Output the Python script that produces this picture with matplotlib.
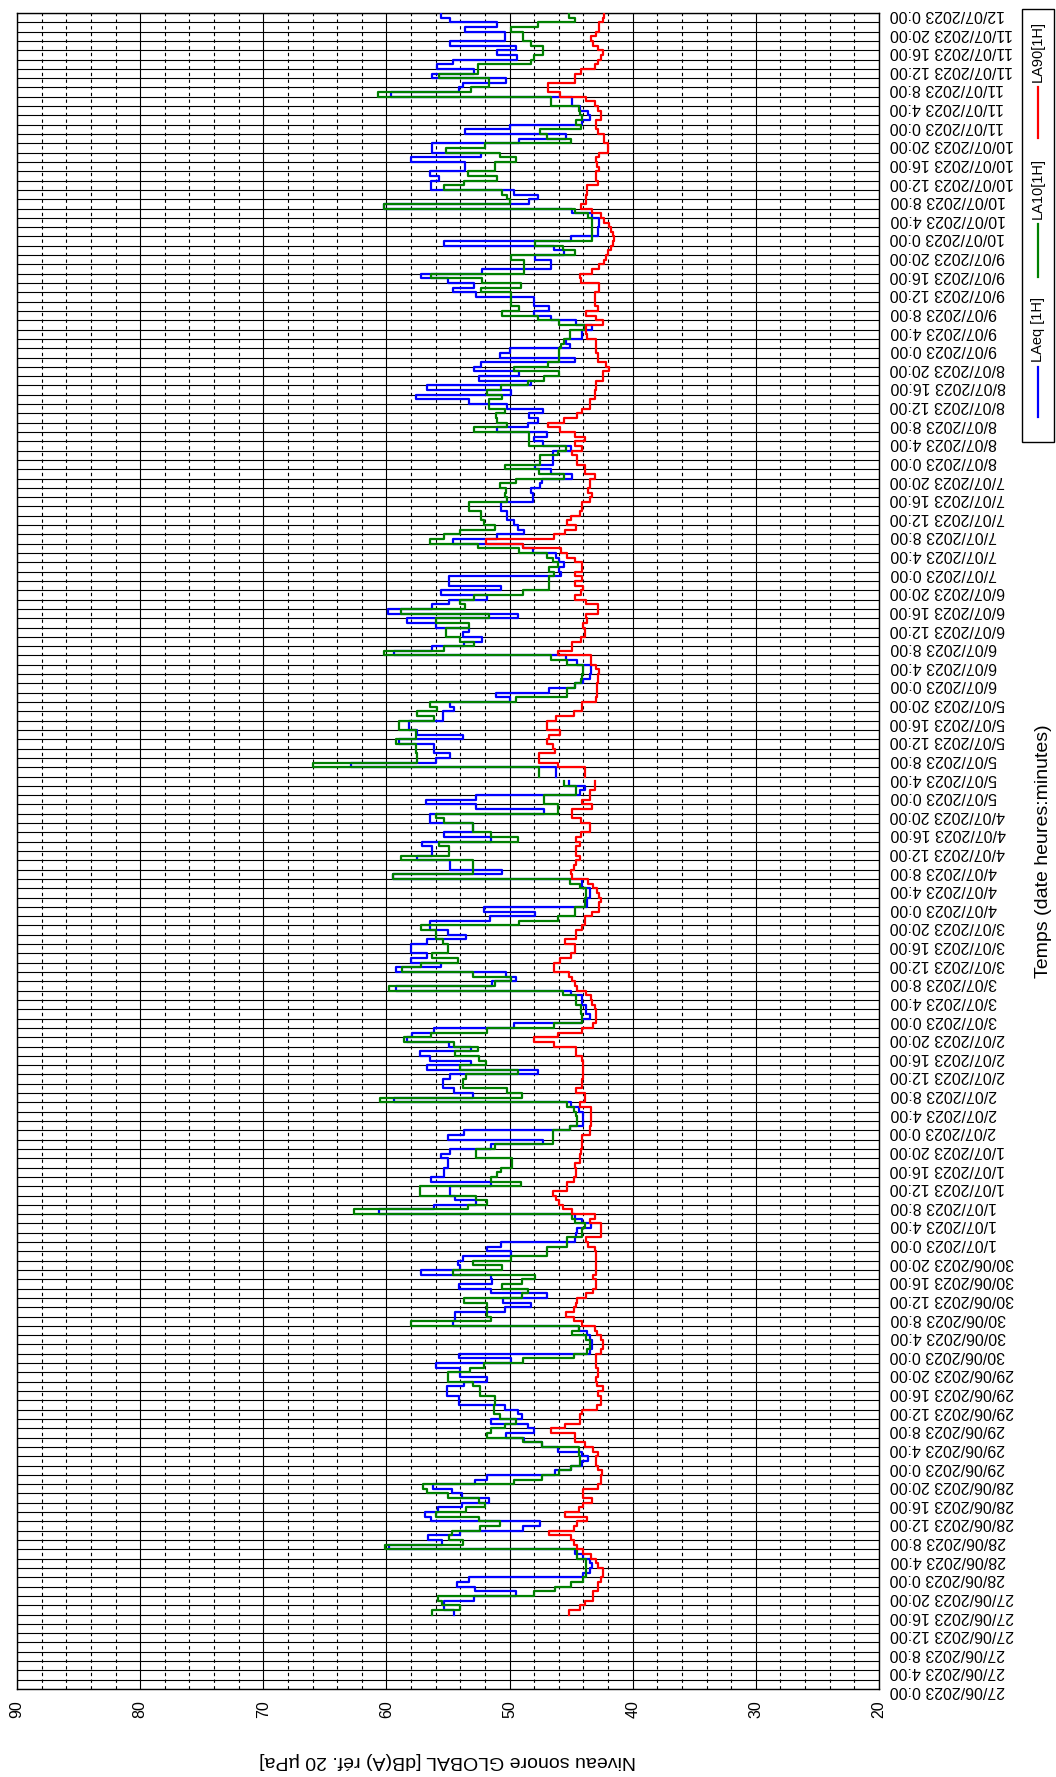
"""
Niveaux sonores horaires LAeq / LA10 / LA90
Page tournée : le temps est en vertical, les niveaux en horizontal.
"""

import numpy as np
import pandas as pd
import matplotlib
matplotlib.use('Agg')
import matplotlib.pyplot as plt
from matplotlib.lines import Line2D
from matplotlib.patches import Rectangle

plt.rcParams['font.family'] = ['Liberation Sans', 'DejaVu Sans']

nan = float('nan')

# une valeur par heure, la première à 27/06/2023 16:00
debut_mesure = '2023-06-27 16:00'

laeq_1h = [
    54.5, 55.3, 55.3, 52.9, 49.5, 52.8, 54.3, 53.3,  # 27/06 16h-23h
    44.0, 43.5, 43.3, 43.5, 44.0, 44.7, 59.8, 55.5, 56.6, 54.0, 48.9, 47.5,
    56.4, 56.9, 55.8, 53.9, 51.7, 53.9, 54.7, 56.2, 52.8, 51.8, 46.3, 45.0,  # 28/06
    44.1, 43.6, 44.1, 46.1, 47.4, 48.8, 50.3, 48.0, 48.5, 51.5, 49.0, 49.3,
    50.4, 54.1, 54.1, 55.1, 55.1, 53.7, 51.8, 54.0, 54.0, 56.0, 49.9, 54.1,  # 29/06
    43.5, 43.3, 43.3, 43.5, 43.7, 44.4, 54.6, 54.4, 54.4, 50.4, 48.3, 50.5,
    47.0, 51.5, 54.1, 51.4, 51.5, 57.2, 54.0, 54.2, 53.8, 49.9, 51.8, 50.7,  # 30/06
    44.7, 44.6, 44.5, 43.4, 44.1, 44.7, 60.6, 56.1, 52.7, 54.4, 54.8, 54.8,
    51.5, 56.4, 55.3, 55.3, 55.0, 55.0, 55.6, 54.8, 51.5, 47.3, 55.0, 53.7,  # 1/07
    45.1, 44.0, 44.0, 44.0, 44.4, 45.0, 59.4, 53.0, 54.5, 55.4, 55.4, 54.8,
    47.7, 56.7, 53.1, 56.5, 57.3, 53.1, 54.9, 58.3, 57.9, 56.1, 49.6, 44.1,  # 2/07
    43.5, 43.8, 43.8, 44.1, 44.1, 45.0, 59.2, 51.4, 49.5, 50.3, 59.2, 55.6,
    58.0, 56.7, 58.0, 58.0, 56.7, 53.5, 55.0, 56.5, 56.5, 51.6, 47.9, 52.1,  # 3/07
    43.7, 43.7, 43.5, 43.5, 44.1, 44.1, 59.5, 50.6, 54.8, 54.8, 57.5, 56.3,
    56.3, 57.1, 51.5, 55.3, 53.0, 53.0, 56.5, 56.5, 47.2, 52.7, 56.8, 52.7,  # 4/07
    44.3, 43.9, 45.2, nan, 46.2, 46.2, 62.9, 56.0, 54.8, 56.1, 56.1, 59.0,
    53.8, 57.5, 58.2, 58.2, 55.4, 55.4, 54.5, 54.8, 50.0, 51.1, 46.8, 44.7,  # 5/07
    44.0, 43.5, 43.4, 43.4, 44.5, 45.4, 59.4, 56.3, 53.7, 52.2, 53.8, 53.3,
    56.0, 58.3, 49.3, 59.9, 56.3, 54.9, 51.8, 55.6, 50.7, 54.9, 54.9, 45.8,  # 6/07
    46.0, 45.6, 46.0, 46.2, 48.1, 48.9, 54.6, 51.0, 48.8, 49.3, 49.6, 50.2,
    50.2, 50.7, 50.7, 48.1, 48.1, 48.3, 47.5, 47.4, 44.9, 46.6, 47.9, 46.5,  # 7/07
    46.5, 46.5, 45.0, 47.3, 48.0, 47.0, 51.0, 48.5, 47.7, 48.4, 47.3, 50.2,
    53.3, 57.6, 49.9, 56.7, 48.3, 52.5, 49.2, 52.9, 52.3, 44.7, 50.8, 50.0,  # 8/07
    45.1, 45.4, 44.1, 44.1, 43.3, 44.6, 46.6, 48.0, 46.8, 48.0, 48.0, 52.7,
    54.6, 52.9, 55.0, 57.2, 52.2, 46.6, 46.6, 47.9, 45.6, 46.4, 55.3, 45.0,  # 9/07
    42.8, 42.8, 42.7, 42.7, 43.3, 44.9, 60.2, 48.4, 47.7, 49.6, 56.4, 56.4,
    55.7, 56.5, 53.6, 53.6, 58.0, 52.3, 56.3, 56.3, 49.2, 45.4, 53.6, 50.0,  # 10/07
    44.1, 43.5, 43.6, 44.3, 44.9, 44.9, 59.6, 54.1, 53.8, 50.3, 56.3, 52.9,
    55.9, 54.6, 49.4, 51.0, 49.5, 54.8, 50.4, 50.4, 53.6, 51.0, 54.8, 55.6,  # 11/07
]

la10_1h = [
    56.3, 54.0, 55.5, 55.8, 48.0, 46.3, 45.0, 44.0,  # 27/06 16h-23h
    43.8, 43.8, 43.8, 43.8, 44.5, 44.5, 60.1, 53.8, 54.9, 54.7, 52.4, 50.8,
    52.5, 56.0, 53.5, 52.0, 52.5, 55.0, 56.7, 57.0, 49.6, 47.4, 46.0, 45.0,  # 28/06
    44.3, 44.3, 44.4, 44.4, 47.4, 48.9, 51.8, 51.5, 50.4, 49.5, 50.8, 51.3,
    51.3, 51.2, 51.2, 52.4, 52.4, 53.0, 55.0, 55.0, 53.2, 52.1, 48.9, 44.8,  # 29/06
    43.7, 43.5, 43.5, 43.8, 44.9, 44.4, 58.0, 51.5, 51.8, 51.8, 51.8, 53.7,
    49.0, 48.5, 50.6, 49.0, 47.9, 54.6, 50.6, 53.0, 49.9, 47.0, 47.0, 45.3,  # 30/06
    45.3, 44.1, 44.1, 43.9, 44.7, 44.9, 62.6, 53.4, 51.8, 52.7, 57.3, 57.3,
    49.1, 51.5, 51.0, 50.7, 49.8, 49.8, 52.7, 52.7, 51.2, 46.5, 46.5, 46.5,  # 1/07
    45.1, 44.5, 44.5, 44.6, 44.8, 45.3, 60.5, 49.0, 50.2, 53.8, 53.8, 53.5,
    49.3, 54.0, 51.9, 52.5, 54.4, 52.6, 54.5, 58.6, 56.4, 51.8, 46.4, 44.1,  # 2/07
    44.1, 44.2, 44.2, 44.6, 44.6, 45.7, 59.8, 51.2, 49.9, 53.0, 58.7, 57.2,
    54.2, 56.3, 55.0, 55.0, 55.4, 56.0, 56.0, 57.2, 49.2, 46.1, 44.7, 44.7,  # 3/07
    43.9, 43.9, 43.8, 43.8, 44.3, 45.1, 59.5, 53.0, 53.0, 53.0, 58.8, 54.9,
    54.9, 55.7, 49.3, 51.5, 53.0, 53.0, 55.3, 56.0, 46.1, 46.1, 47.2, 47.2,  # 4/07
    44.6, 44.6, 45.6, nan, 47.6, 47.6, 66.0, 57.5, 57.5, 57.6, 57.6, 59.2,
    57.6, 57.6, 59.0, 59.0, 56.1, 57.5, 55.9, 56.5, 49.5, 45.3, 45.3, 44.7,  # 5/07
    44.2, 44.1, 44.0, 44.0, 45.3, 46.6, 60.2, 55.3, 52.9, 54.0, 55.2, 55.2,
    53.3, 56.0, 51.7, 58.8, 53.6, 54.0, 52.9, 48.9, 46.8, 46.8, 46.8, 46.4,  # 6/07
    46.8, 46.1, 46.5, 47.0, 49.2, 52.6, 56.5, 55.3, 54.0, 51.2, 52.1, 52.3,
    52.3, 53.3, 53.3, 50.2, 50.4, 50.3, 50.8, 49.5, 45.6, 47.6, 50.4, 47.5,  # 7/07
    47.5, 46.1, 45.4, 48.4, 48.4, 48.4, 52.9, 50.2, 51.0, 51.1, 50.4, 51.7,
    51.7, 50.6, 51.8, 50.7, 48.5, 47.2, 46.0, 49.6, 46.9, 46.0, 46.0, 46.0,  # 8/07
    45.8, 45.6, 45.1, 45.1, 43.9, 46.0, 47.7, 50.6, 49.2, 49.9, 49.9, 49.9,
    52.3, 49.1, 52.2, 56.4, 48.8, 48.8, 48.8, 49.9, 44.7, 45.7, 47.9, 43.3,  # 9/07
    43.3, 43.3, 43.3, 43.3, 43.6, 44.7, 60.2, 50.0, 50.2, 50.6, 55.3, 53.7,
    51.0, 53.4, 51.2, 51.2, 49.5, 50.8, 55.2, 52.0, 45.0, 47.0, 47.5, 44.2,  # 10/07
    44.6, 44.1, 44.3, 44.4, 46.6, 46.6, 60.7, 53.1, 51.7, 51.7, 55.7, 52.6,
    52.6, 48.3, 48.0, 47.3, 47.3, 48.3, 48.9, 48.9, 49.9, 47.7, 44.7, 45.2,  # 11/07
]

la90_1h = [
    45.2, 44.3, 43.9, 43.2, 43.2, 42.8, 42.8, 42.6,  # 27/06 16h-23h
    42.4, 42.4, 42.8, 43.0, 43.4, 44.0, 44.5, 44.8, 45.0, 46.8, 44.8, 44.5,
    43.7, 45.5, 44.4, 44.0, 43.3, 44.0, 44.0, 42.8, 42.6, 42.6, 42.5, 42.8,  # 28/06
    43.0, 43.0, 42.8, 43.2, 43.9, 44.7, 44.7, 46.6, 45.5, 44.3, 44.3, 44.1,
    42.9, 42.6, 42.6, 42.8, 42.4, 42.9, 43.0, 42.8, 42.8, 43.0, 43.0, 43.0,  # 29/06
    42.6, 42.4, 42.4, 42.6, 42.9, 43.1, 44.1, 44.8, 45.4, 44.8, 44.6, 44.5,
    43.8, 43.2, 43.0, 43.0, 43.2, 43.0, 43.0, 43.0, 43.0, 43.0, 43.1, 43.6,  # 30/06
    43.8, 42.6, 42.6, 42.6, 43.5, 43.1, 44.9, 45.7, 46.0, 46.2, 46.5, 45.3,
    45.3, 44.8, 44.6, 44.6, 44.7, 44.3, 44.3, 44.2, 44.1, 44.1, 44.1, 43.5,  # 1/07
    43.5, 43.4, 43.4, 43.4, 43.4, 44.3, 43.9, 43.9, 44.6, 44.1, 44.1, 44.0,
    44.0, 44.0, 44.0, 44.1, 44.6, 44.6, 46.4, 48.0, 46.1, 44.1, 43.2, 43.0,  # 2/07
    43.0, 43.0, 43.1, 43.3, 43.4, 43.8, 44.5, 44.7, 44.9, 45.2, 46.4, 46.4,
    45.9, 45.0, 44.7, 44.7, 45.5, 44.6, 44.6, 44.1, 43.9, 43.9, 43.3, 42.7,  # 3/07
    42.7, 42.6, 42.7, 42.9, 43.2, 43.6, 44.9, 45.0, 44.8, 44.6, 44.3, 44.6,
    44.6, 44.3, 44.6, 44.2, 43.5, 43.5, 44.2, 44.9, 44.9, 43.3, 44.1, 43.5,  # 4/07
    43.5, 43.1, 43.1, nan, 43.9, 43.9, 46.1, 47.6, 47.6, 46.3, 46.5, 47.0,
    46.8, 45.9, 47.0, 47.0, 46.2, 44.8, 44.1, 44.1, 43.0, 42.9, 42.9, 42.9,  # 5/07
    42.8, 42.8, 42.7, 43.0, 43.4, 43.4, 46.1, 44.9, 44.9, 44.2, 43.9, 43.9,
    44.0, 43.7, 43.8, 42.8, 42.8, 43.8, 44.7, 44.2, 44.0, 44.7, 44.1, 44.7,  # 6/07
    44.1, 44.1, 44.7, 45.3, 45.8, 48.9, 51.9, 46.4, 45.5, 44.6, 45.3, 45.0,
    44.3, 44.1, 44.1, 43.5, 43.3, 43.6, 43.5, 43.5, 43.1, 43.9, 43.9, 44.5,  # 7/07
    44.5, 44.9, 44.1, 44.7, 43.9, 44.7, 45.9, 46.9, 45.6, 44.5, 44.1, 43.5,
    43.5, 43.1, 43.1, 43.0, 43.0, 42.4, 42.4, 41.9, 42.2, 42.8, 42.8, 43.0,  # 8/07
    43.0, 43.0, 43.7, 43.8, 43.8, 42.4, 43.0, 43.8, 42.8, 43.1, 43.1, 43.1,
    42.7, 42.7, 44.2, 44.3, 43.3, 42.7, 42.3, 42.2, 42.0, 41.8, 41.6, 41.5,  # 9/07
    41.6, 41.8, 41.9, 42.3, 42.6, 43.3, 44.2, 43.8, 43.8, 43.7, 43.7, 42.8,
    43.0, 43.0, 42.7, 42.9, 43.0, 42.7, 42.0, 42.0, 42.3, 42.3, 42.8, 43.0,  # 10/07
    43.0, 42.6, 42.6, 42.8, 43.1, 43.8, 45.9, 46.9, 46.9, 44.7, 44.7, 44.2,
    43.1, 42.8, 42.6, 42.4, 42.8, 43.2, 43.4, 43.0, 42.7, 42.7, 42.4, 42.3,  # 11/07
]

noms = ['LAeq [1H]', 'LA10[1H]', 'LA90[1H]']
couleurs = ['#0000ff', '#008000', '#ff0000']

# --- figure (pixels, origine en haut à gauche) ---
W, H = 1056, 1777
fig = plt.figure(figsize=(W / 100, H / 100), dpi=100)


def px(x, y):
    return x / W, 1 - y / H


ax = fig.add_axes([17 / W, 1 - 1689 / H, (879 - 17) / W, (1689 - 13) / H])

# heures écoulées depuis le 27/06/2023 0:00
origine = pd.Timestamp('2023-06-27 00:00')
temps = pd.date_range(debut_mesure, periods=len(laeq_1h), freq='h')
heures = np.asarray((temps - origine) / pd.Timedelta(hours=1), dtype=float)

# courbes en escalier (valeur tenue pendant l'heure)
for valeurs, couleur in zip([laeq_1h, la10_1h, la90_1h], couleurs):
    y = np.column_stack([heures, heures + 1]).ravel()
    x = np.repeat(np.asarray(valeurs, dtype=float), 2)
    ax.plot(x, y, color=couleur, lw=1.6, zorder=3)

ax.set_xlim(90, 20)
ax.set_ylim(0, 360)

ax.set_xticks(np.arange(20, 91, 10))
ax.set_xticks(np.arange(20, 91, 2), minor=True)
ax.set_xticklabels([str(v) for v in range(20, 91, 10)], rotation=90, fontsize=11.5)

dates = pd.date_range('2023-06-27', '2023-07-12', freq='4h')
ax.yaxis.tick_right()
ax.set_yticks(np.arange(0, 361, 4))
ax.set_yticks(np.arange(0, 361, 2), minor=True)
ax.set_yticklabels([f'{d.day}/{d.month:02d}/{d.year} {d.hour}:{d.minute:02d}' for d in dates],
                   rotation=180, fontsize=11.5)

ax.tick_params(axis='both', which='both', length=0)
ax.tick_params(axis='y', pad=8)
ax.tick_params(axis='x', pad=8)

ax.grid(True, axis='x', which='major', color='black', lw=0.8)
ax.grid(True, axis='x', which='minor', color='black', lw=0.8, ls=(0, (3, 3)))
ax.grid(True, axis='y', which='both', color='black', lw=0.8)
ax.set_axisbelow(True)
for s in ax.spines.values():
    s.set_linewidth(1.0)

# titres d'axes
fig.text(*px(448, 1760), 'Niveau sonore GLOBAL [dB(A) réf. 20 µPa]',
         rotation=180, ha='center', va='center', fontsize=14)
fig.text(*px(1043, 851), 'Temps (date heures:minutes)',
         rotation=90, ha='center', va='center', fontsize=14)

# légende (dessinée à la main, tournée)
x0, y0 = px(1022, 442)
x1, y1 = px(1054, 9)
fig.add_artist(Rectangle((x0, y0), x1 - x0, y1 - y0, transform=fig.transFigure,
                         fill=False, ec='black', lw=1.0))
for nom, couleur, (bas, haut) in zip(noms, couleurs, [(417, 367), (277, 224), (138, 87)]):
    fig.add_artist(Line2D([px(1038, 0)[0]] * 2, [px(0, bas)[1], px(0, haut)[1]],
                          transform=fig.transFigure, color=couleur, lw=1.6))
    fig.text(*px(1038, haut - 5), nom, rotation=90, ha='center', va='bottom', fontsize=10.5)

fig.savefig('out.png', dpi=100)
